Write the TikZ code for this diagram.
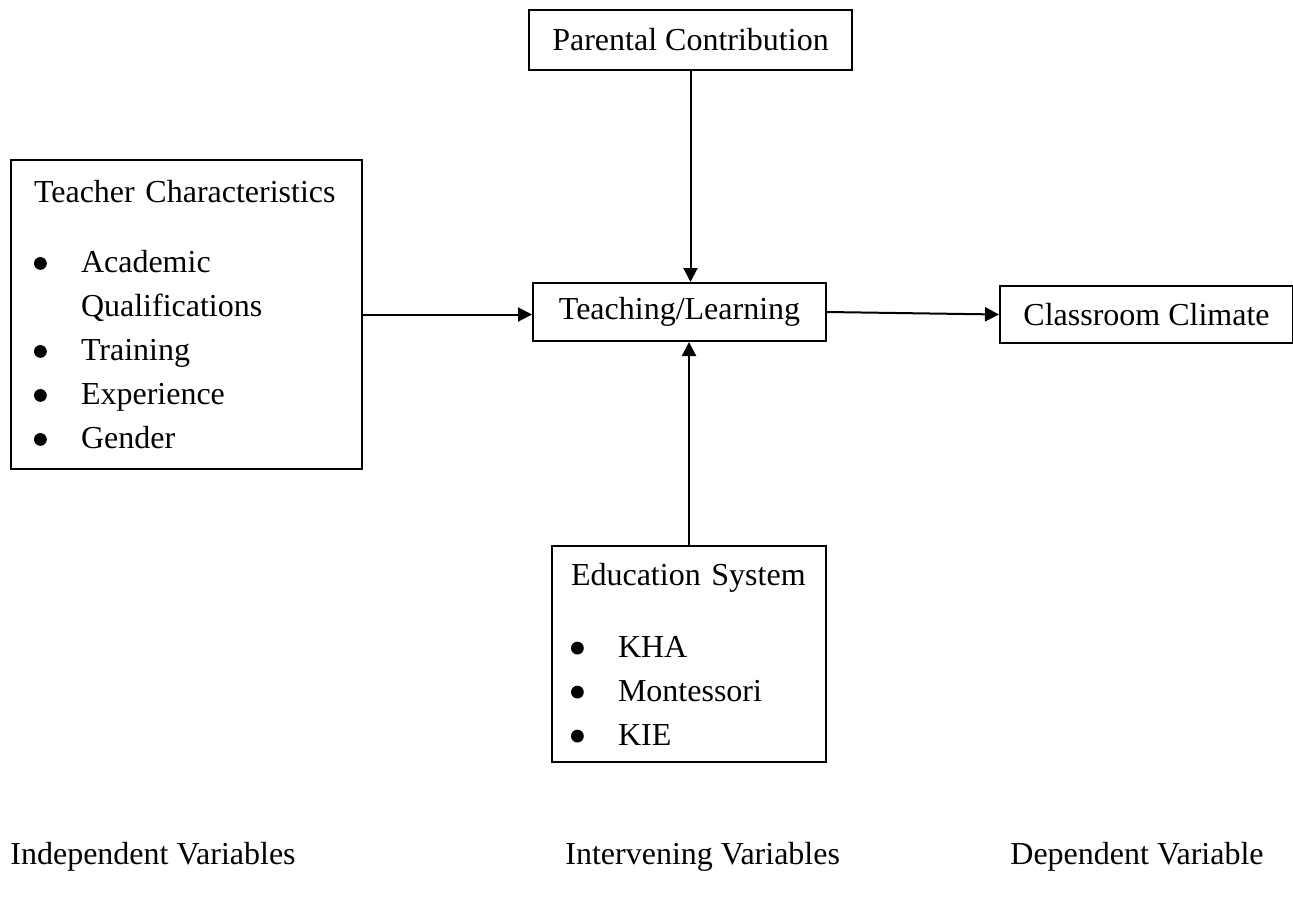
\documentclass[tikz,border=0pt]{standalone}
\usepackage{fontspec}
\setmainfont{Liberation Serif}
\usetikzlibrary{arrows.meta,positioning}
\tikzset{
  box/.style={draw=black, line width=1pt, inner sep=0pt, align=center,
    font=\fontsize{16}{22}\selectfont},
  listbox/.style={box, align=left, inner xsep=11.5pt},
  arr/.style={-{Triangle[length=7pt,width=7pt]}, line width=1pt},
  caption/.style={anchor=base west, inner sep=0pt, font=\fontsize{16}{22}\selectfont}
}
\newcommand{\bitem}[1]{\makebox[23.5pt][l]{\tikz[baseline=0pt, x=1pt, y=1pt]\fill (3.2,4.5) circle[radius=3.2];}#1}

\begin{document}
\begin{tikzpicture}[x=0.5pt, y=-0.5pt]
  \useasboundingbox (0,0) rectangle (1293,899);

  \node[box, anchor=north west, minimum width=161.5pt, minimum height=30pt] (parent) at (528,9) {Parental Contribution};
  \node[box, anchor=north west, minimum width=146.5pt, minimum height=29pt] (teach) at (532,282) {Teaching/Learning};
  \node[box, right=86pt of teach, yshift=-1.25pt, minimum width=146.5pt, minimum height=28.5pt] (climate) {Classroom Climate};

  \node[listbox, anchor=north west, text width=152.5pt, minimum height=154.5pt] (teacher) at (10,159)
    {Teacher Characteristics\\[13pt]
     \bitem{Academic}\\
     \hspace*{23.5pt}Qualifications\\
     \bitem{Training}\\
     \bitem{Experience}\\
     \bitem{Gender}};
  \node[listbox, anchor=north west, inner xsep=9.5pt, text width=118pt, minimum height=108pt] (system) at (551,545)
    {\mbox{Education System}\\[14pt]
     \bitem{KHA}\\
     \bitem{Montessori}\\
     \bitem{KIE}};

  \draw[arr] (parent.south) -- (parent.south |- teach.north);
  \draw[arr] (system.north) -- (system.north |- teach.south);
  \draw[arr] (teacher.east) -- (teacher.east -| teach.west);
  \draw[arr] (teach.east) -- (climate.west);

  \node[caption] (indep) at (10,864) {Independent Variables};
  \node[caption] (interv) at (565,864) {Intervening Variables};
  \node[caption] (dep) at (1010,864) {Dependent Variable};
\end{tikzpicture}
\end{document}
